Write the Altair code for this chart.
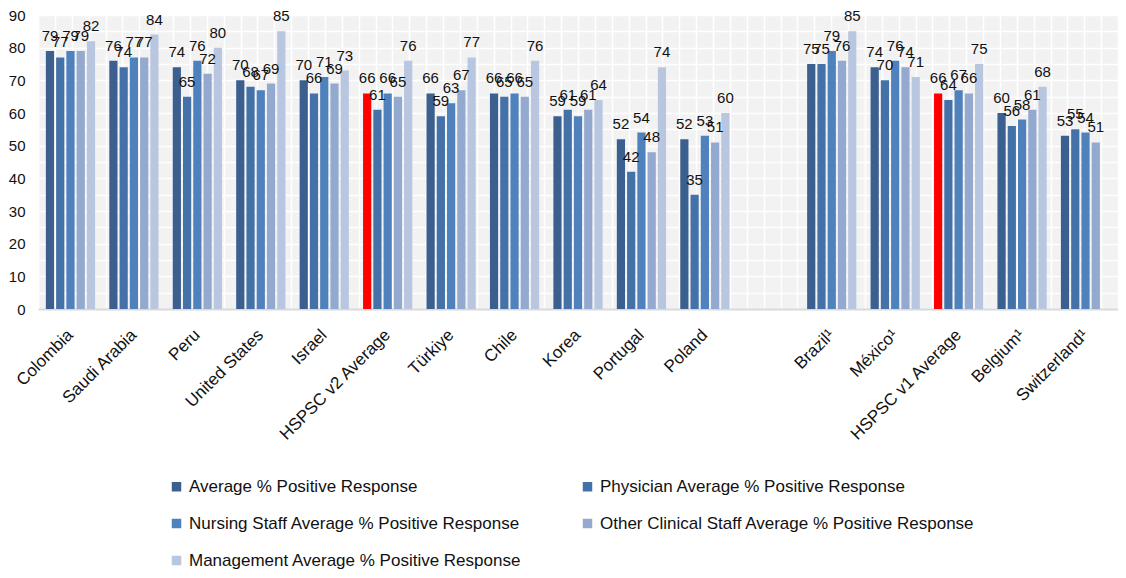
import altair as alt
import pandas as pd

categories = ["Colombia", "Saudi Arabia", "Peru", "United States", "Israel",
              "HSPSC v2 Average", "Türkiye", "Chile", "Korea", "Portugal", "Poland",
              " ", "Brazil¹", "México¹", "HSPSC v1 Average", "Belgium¹", "Switzerland¹"]
series = ["Average % Positive Response",
          "Physician Average % Positive Response",
          "Nursing Staff Average % Positive Response",
          "Other Clinical Staff Average % Positive Response",
          "Management Average % Positive Response"]
avg   = [79, 76, 74, 70, 70, 66, 66, 66, 59, 52, 52, None, 75, 74, 66, 60, 53]
phys  = [77, 74, 65, 68, 66, 61, 59, 65, 61, 42, 35, None, 75, 70, 64, 56, 55]
nurse = [79, 77, 76, 67, 71, 66, 63, 66, 59, 54, 53, None, 79, 76, 67, 58, 54]
other = [79, 77, 72, 69, 69, 65, 67, 65, 61, 48, 51, None, 76, 74, 66, 61, 51]
mgmt  = [82, 84, 80, 85, 73, 76, 77, 76, 64, 74, 60, None, 85, 71, 75, 68, None]
highlight = ["HSPSC v2 Average", "HSPSC v1 Average"]
colors = ["#3B5F8F", "#4472A8", "#4F81BD", "#93A9CF", "#B9C6E0"]
highlight_color = "#FF0000"

rows = []
for s_name, vals in zip(series, [avg, phys, nurse, other, mgmt]):
    for cat, v in zip(categories, vals):
        if v is None:
            continue
        key = "Benchmark" if (s_name == series[0] and cat in highlight) else s_name
        rows.append({"category": cat, "series": s_name, "value": v, "ckey": key})
df = pd.DataFrame(rows)

FONT = "Liberation Sans"

base = alt.Chart(df).encode(
    x=alt.X("category:N", sort=categories,
            scale=alt.Scale(domain=categories, paddingInner=0.224, paddingOuter=0.124),
            axis=alt.Axis(orient="bottom", labelAngle=-45, labelAlign="right",
                          labelBaseline="middle", labelFontSize=17, labelFont=FONT,
                          labelColor="#111111", ticks=False, domainColor="#D9D9D9",
                          domainWidth=2, title=None, grid=False, labelPadding=23,
                          labelLimit=300)),
    xOffset=alt.XOffset("series:N", sort=series,
                        scale=alt.Scale(domain=series, paddingInner=0.2)),
    y=alt.Y("value:Q", scale=alt.Scale(domain=[0, 90], nice=False),
            axis=alt.Axis(values=list(range(0, 91, 5)),
                          labelExpr="datum.value % 10 == 0 ? datum.label : ''",
                          grid=True, gridColor="white", gridWidth=1.5, ticks=False,
                          domain=False, labelFontSize=15, labelFont=FONT,
                          labelColor="#111111", labelPadding=13, title=None)),
)

bars = base.mark_bar().encode(
    color=alt.Color("ckey:N",
                    scale=alt.Scale(domain=series + ["Benchmark"],
                                    range=colors + [highlight_color]),
                    legend=alt.Legend(values=series, orient="none", legendX=130,
                                      legendY=463, columns=2, direction="horizontal",
                                      columnPadding=57, rowPadding=19,
                                      symbolType="square", symbolSize=90,
                                      symbolStrokeWidth=0, labelFontSize=17,
                                      labelFont=FONT, labelColor="#111111",
                                      labelLimit=600, labelOffset=4, title=None))
)

labels = base.mark_text(baseline="bottom", dy=-7, fontSize=15, font=FONT,
                        color="#111111").encode(text="value:Q")

grid_df = pd.DataFrame({"g": [0]})
vgrid = alt.Chart(grid_df).mark_rule(opacity=0).encode(
    x=alt.X("g:Q", scale=alt.Scale(domain=[0, 64], nice=False),
            axis=alt.Axis(orient="top", values=list(range(65)), grid=True,
                          gridColor="white", gridWidth=1.5, labels=False,
                          ticks=False, domain=False, title=None))
)

chart = alt.layer(vgrid, alt.layer(bars, labels)).resolve_scale(
    x="independent"
).properties(
    width=1080, height=294,
    padding={"left": 0, "top": 0, "right": 0, "bottom": 0},
).configure_view(stroke=None, fill="#F2F2F2")

chart.save("out.html", embed_options={"renderer": "svg", "actions": False})
